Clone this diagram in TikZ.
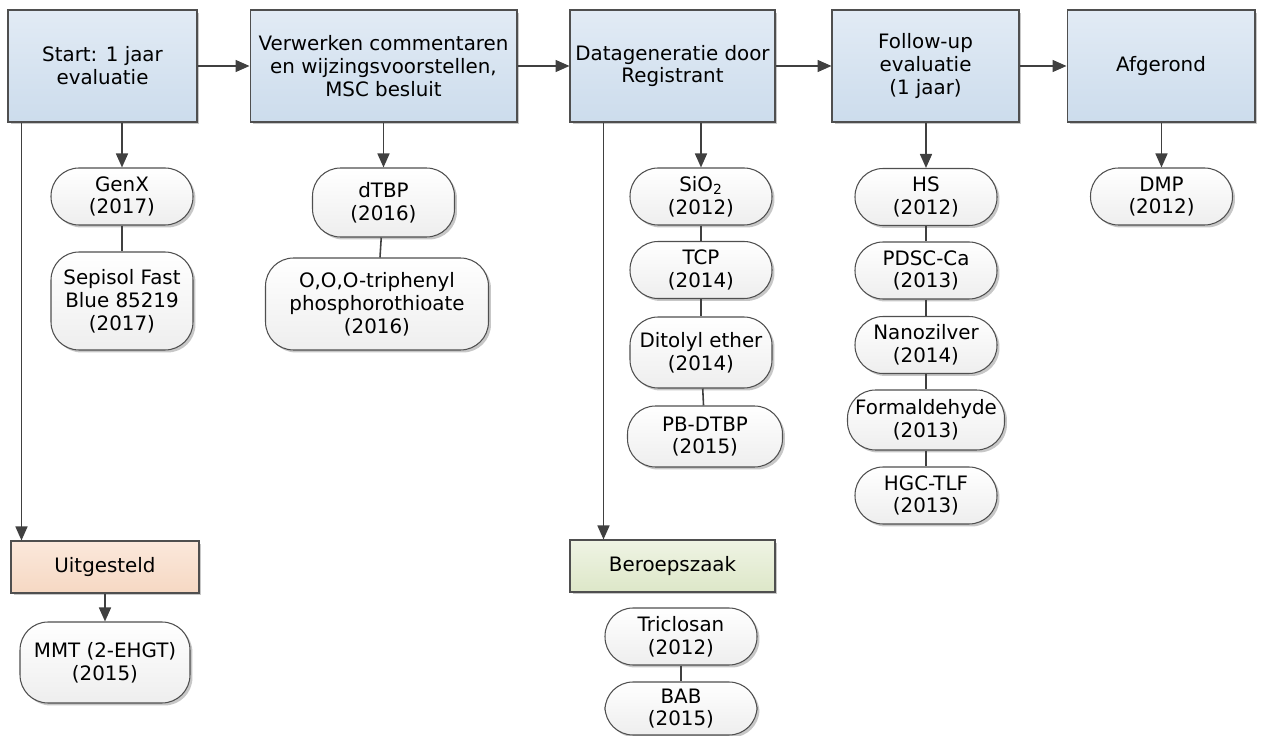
\documentclass[tikz,border=0pt]{standalone}
\usepackage{fontspec}
\setmainfont{DejaVu Sans}
\usetikzlibrary{calc, shadows, arrows.meta}

\definecolor{randkleur}{HTML}{4F4F4F}
\definecolor{pijlkleur}{HTML}{404040}
\definecolor{blauwT}{HTML}{E2EBF5}
\definecolor{blauwB}{HTML}{CCDCEC}
\definecolor{grijsB}{HTML}{EEEEEE}
\definecolor{oranjeT}{HTML}{FBE8DB}
\definecolor{oranjeB}{HTML}{F6D8C3}
\definecolor{groenT}{HTML}{EFF4E4}
\definecolor{groenB}{HTML}{DDE7C8}

\tikzset{
	every node/.style={font=\fontsize{11.3}{13}\selectfont, align=center, inner sep=1pt},
	schaduw/.style={drop shadow={shadow xshift=0.05cm, shadow yshift=-0.05cm, opacity=0.22, fill=black}},
	fase/.style={draw=randkleur, line width=0.6pt, top color=blauwT, bottom color=blauwB, schaduw, minimum height=2.24cm},
	status/.style={draw=randkleur, line width=0.6pt, schaduw, minimum height=1.04cm},
	stof/.style={draw=randkleur, line width=0.6pt, rounded corners=0.56cm, top color=white, bottom color=grijsB, schaduw, minimum width=2.84cm, minimum height=1.14cm},
	lijn/.style={draw=pijlkleur, line width=0.9pt},
	pijl/.style={lijn, -{Triangle[length=0.28cm, width=0.24cm]}},
}

\begin{document}
\begin{tikzpicture}[x=0.02cm, y=-0.02cm]
	\useasboundingbox (0,0) rectangle (1262,736);
	
%%%%     FASES     %%%%

	\node[fase, minimum width=3.78cm] (start) at (102.5,66) {Start: 1 jaar\\evaluatie};
	\node[fase, minimum width=5.34cm] (verwerk) at (383.5,66) {Verwerken commentaren\\en wijzingsvoorstellen,\\MSC besluit};
	\node[fase, minimum width=4.1cm] (datagen) at (672.5,66) {Datageneratie door\\Registrant};
	\node[fase, minimum width=3.74cm] (followup) at (925.5,66) {Follow-up\\evaluatie\\(1 jaar)};
	\node[fase, minimum width=3.76cm] (afgerond) at (1161,66) {Afgerond};
	
	% pijlen tussen fases
	\draw[pijl] (start) -- (verwerk);
	\draw[pijl] (verwerk) -- (datagen);
	\draw[pijl] (datagen) -- (followup);
	\draw[pijl] (followup) -- (afgerond);
	
	% uitgesteld en beroepszaak
	\node[status, top color=oranjeT, bottom color=oranjeB, minimum width=3.76cm] (uitgesteld) at (105,567) {Uitgesteld};
	\node[status, top color=groenT, bottom color=groenB, minimum width=4.1cm] (beroep) at (672.5,566) {Beroepszaak};
	
	\coordinate (uit-in) at ($(uitgesteld.north west)+(11,0)$);
	\coordinate (ber-in) at ($(beroep.north west)+(34,0)$);
	\draw[pijl] (uit-in |- start.south) -- (uit-in);
	\draw[pijl] (ber-in |- datagen.south) -- (ber-in);
	
%%%%     STOFFEN     %%%%

	% start
	\node[stof] (genx) at (122,196.5) {GenX\\(2017)};
	\node[stof, minimum height=1.96cm] (sepisol) at (122,301) {Sepisol Fast\\Blue 85219\\(2017)};
	\draw[pijl] (genx |- start.south) -- (genx);
	\draw[lijn] (genx) -- (sepisol);
	
	% uitgesteld
	\node[stof, minimum width=3.4cm, minimum height=1.62cm] (mmt) at (105,662.5) {MMT (2-EHGT)\\(2015)};
	\draw[pijl] (uitgesteld) -- (mmt);
	
	% verwerken
	\node[stof, minimum height=1.38cm] (dtbp) at (383.5,202.5) {dTBP\\(2016)};
	\node[stof, minimum width=4.46cm, minimum height=1.84cm] (ooo) at (377,304) {O,O,O-triphenyl\\phosphorothioate\\(2016)};
	\draw[pijl] (verwerk) -- (dtbp);
	\draw[lijn] (dtbp) -- (ooo);
	
	% datageneratie
	\node[stof] (sio2) at (701,196.5) {SiO\textsubscript{2}\\(2012)};
	\node[stof] (tcp) at (701,270) {TCP\\(2014)};
	\node[stof, minimum height=1.42cm] (ditolyl) at (701,352.5) {Ditolyl ether\\(2014)};
	\node[stof, minimum width=3.1cm, minimum height=1.22cm] (pbdtbp) at (705,436.5) {PB-DTBP\\(2015)};
	\draw[pijl] (sio2 |- datagen.south) -- (sio2);
	\draw[lijn] (sio2) -- (tcp);
	\draw[lijn] (tcp) -- (ditolyl);
	\draw[lijn] (ditolyl) -- (pbdtbp);
	
	% beroepszaak
	\node[stof, minimum width=3.04cm] (triclosan) at (681,636.5) {Triclosan\\(2012)};
	\node[stof, minimum width=3.04cm, minimum height=1.06cm] (bab) at (681,708.5) {BAB\\(2015)};
	\draw[lijn] (triclosan) -- (bab);
	
	% follow-up
	\node[stof] (hs) at (926,197) {HS\\(2012)};
	\node[stof] (pdsc) at (926,270.5) {PDSC-Ca\\(2013)};
	\node[stof] (nano) at (926,345) {Nanozilver\\(2014)};
	\node[stof, minimum width=3.14cm, minimum height=1.2cm] (formal) at (926,420) {Formaldehyde\\(2013)};
	\node[stof] (hgc) at (926,495.5) {HGC-TLF\\(2013)};
	\draw[pijl] (hs |- followup.south) -- (hs);
	\draw[lijn] (hs) -- (pdsc);
	\draw[lijn] (pdsc) -- (nano);
	\draw[lijn] (nano) -- (formal);
	\draw[lijn] (formal) -- (hgc);
	
	% afgerond
	\node[stof] (dmp) at (1161.5,196.5) {DMP\\(2012)};
	\draw[pijl] (dmp |- afgerond.south) -- (dmp);
	
\end{tikzpicture}
\end{document}
